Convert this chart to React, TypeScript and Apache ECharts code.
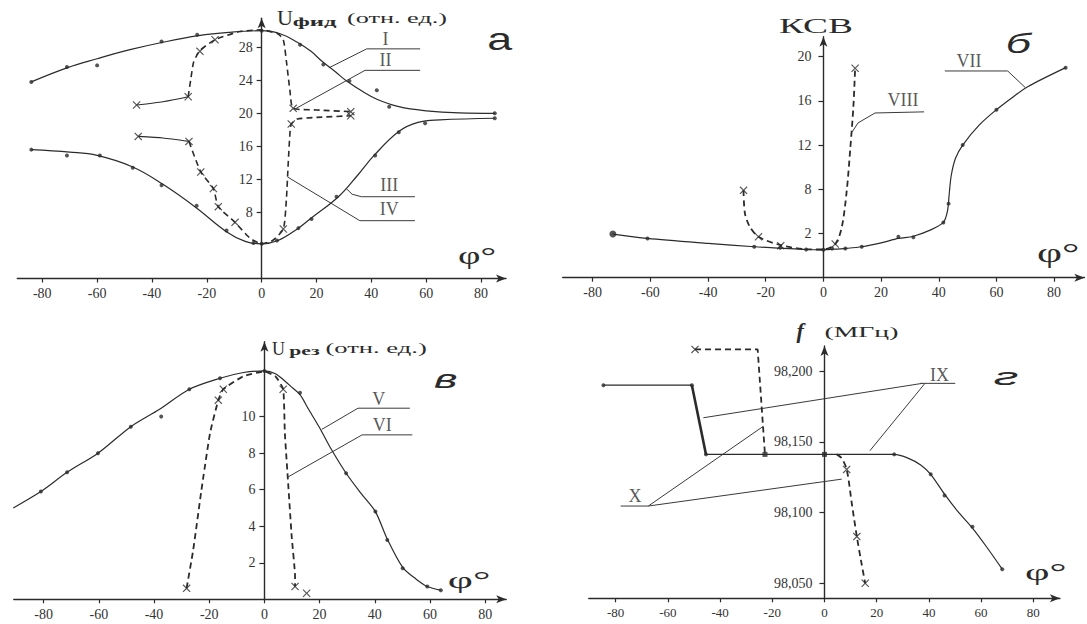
import React, { useEffect, useRef } from "react";
import * as echarts from "echarts";

// ---------- tick values ----------
const xTicks = [-80, -60, -40, -20, 0, 20, 40, 60, 80];
const aYTicks = [8, 12, 16, 20, 24, 28];
const bYTicks = [4, 8, 12, 16, 20];
const bYLabels = ["2", "8", "12", "16", "20"];
const cYTicks = [2, 4, 6, 8, 10];
const dYTicks = [98.05, 98.1, 98.15, 98.2];

// ---------- panel а : U фид ----------
const curveI = [[-84, 23.8], [-71, 25.5], [-60, 26.6], [-48, 27.7], [-36, 28.6], [-23, 29.4], [-12, 29.8], [0, 30], [7, 29.6], [13, 28.6], [18, 27.5], [22, 26.3], [27, 25], [31, 23.9], [37, 22.6], [42, 21.7], [50, 20.8], [60, 20.3], [72, 20.05], [85, 20]];
const dotsI = [[-84, 23.8], [-71, 25.6], [-60, 25.8], [-36.5, 28.7], [-23.5, 29.5], [0, 30.0], [14, 28.3], [22.5, 25.9], [32, 23.9], [42, 22.8], [46.5, 20.8], [85, 20.0]];
const curveIII = [[-84, 15.6], [-70, 15.3], [-60, 14.9], [-47, 13.5], [-36, 11.4], [-24, 8.6], [-13, 5.7], [-6, 4.5], [0, 4.2], [6, 4.6], [13, 6.0], [18, 7.3], [28, 9.9], [35, 12.5], [41, 14.9], [50, 17.8], [57, 18.9], [65, 19.2], [85, 19.4]];
const dotsIII = [[-84, 15.6], [-71, 14.9], [-59, 14.9], [-47, 13.4], [-36.5, 11.3], [-23.7, 8.8], [-12.8, 5.8], [-3, 4.3], [0, 4.2], [5.6, 4.6], [13.4, 6.1], [18.2, 7.2], [27.3, 9.9], [41.4, 14.9], [50, 17.7], [59.6, 18.8], [85, 19.4]];
const solidII = [[-45.6, 21.0], [-36, 21.4], [-26.8, 22.0]];
const dashII = [[-26.8, 22.0], [-25.8, 24.2], [-24.8, 26.2], [-22.5, 27.6], [-17, 28.9], [-7.9, 29.9], [0, 30.1], [6, 29.6], [7.9, 28.9], [9.1, 26.1], [10.3, 22.8], [11.5, 20.6], [20, 20.4], [32.5, 20.2]];
const crossII = [[-45.6, 21.0], [-26.8, 22.0], [-22.5, 27.5], [-17, 28.9], [11.5, 20.6], [32.5, 20.2]];
const solidIV = [[-45, 17.2], [-36, 17.0], [-26.5, 16.6]];
const dashIV = [[-26.5, 16.6], [-22.2, 12.9], [-17.6, 10.9], [-15.8, 8.7], [-9.7, 6.8], [-4.3, 4.9], [0, 4.2], [4, 4.6], [7.9, 6.0], [9, 9.5], [9.7, 14], [10.3, 17.5], [10.8, 18.7], [13, 19.3], [20, 19.5], [32.5, 19.7]];
const crossIV = [[-45, 17.2], [-26.5, 16.6], [-22.2, 12.9], [-17.6, 10.9], [-15.8, 8.7], [-9.7, 6.8], [7.9, 6.0], [10.8, 18.7], [32.5, 19.7]];
const leadI = [[24.5, 25.5], [38.3, 27.8], [57.8, 27.8]];
const leadII = [[12.6, 20.6], [37.7, 25.2], [57.8, 25.2]];
const leadIII = [[30.8, 10.9], [33, 10.2], [36.4, 9.9], [55.9, 9.9]];
const leadIV = [[9.4, 12.3], [35.8, 7.0], [55.9, 7.0]];
const namesA = [[45.2, 29.0, "I"], [45.2, 26.4, "II"], [46.5, 11.3, "III"], [46.5, 8.4, "IV"]];

// ---------- panel б : КСВ ----------
const curveVII = [[-73, 3.95], [-61, 3.55], [-40, 3.1], [-24, 2.8], [-15, 2.68], [-6, 2.55], [0, 2.52], [4, 2.58], [8, 2.65], [13.3, 2.8], [20, 3.15], [26, 3.55], [31.2, 3.75], [37, 4.3], [41.6, 5.0], [43, 6.0], [43.6, 7.5], [44.3, 9.2], [45.8, 10.8], [48.3, 12.0], [54, 13.8], [60, 15.2], [66, 16.4], [71, 17.3], [84, 19.0]];
const dotsVII = [[-61, 3.55], [-24, 2.8], [-15, 2.7], [-6, 2.55], [0, 2.52], [3, 2.65], [7.6, 2.65], [13.3, 2.8], [26, 3.7], [31.2, 3.65], [41.6, 5.0], [43.4, 6.7], [48.3, 12.0], [60, 15.2], [84, 19.0]];
const bigDotVII = [[-73, 3.95]];
const curveVIII = [[-27.7, 7.9], [-27.2, 5.8], [-25.5, 4.6], [-22.5, 3.7], [-15, 2.96], [-5.8, 2.57], [0, 2.55], [4.1, 3.05], [6.4, 4.6], [8.1, 7.9], [9.3, 11.6], [10.4, 15.5], [11, 18.95]];
const crossVIII = [[-27.7, 7.9], [-22.5, 3.7], [-14.8, 2.9], [4.1, 3.05], [11, 18.95]];
const leadVII = [[70, 17.2], [63.9, 18.7], [42.1, 18.7]];
const leadVIII = [[10, 13.2], [12, 14.0], [17.9, 14.9], [34.9, 15.0]];
const namesB = [[50.5, 19.6, "VII"], [27.6, 16.1, "VIII"]];

// ---------- panel в : U рез ----------
const curveV = [[-91, 5.0], [-81, 5.9], [-71.5, 6.95], [-60.3, 8.0], [-48.4, 9.45], [-38, 10.4], [-27.2, 11.5], [-16.1, 12.1], [-8, 12.4], [0, 12.5], [4, 12.35], [7.4, 11.95], [10, 11.6], [12.9, 11.2], [16, 10.4], [20.1, 9.36], [23.7, 8.35], [29.6, 6.9], [35, 5.8], [40.2, 4.8], [44.5, 3.3], [50.1, 1.75], [55, 1.1], [59, 0.7], [63.9, 0.5]];
const dotsV = [[-91, 5.0], [-81, 5.9], [-71.5, 6.95], [-60.3, 8.0], [-48.4, 9.45], [-37.4, 10.0], [-27.2, 11.5], [-16.1, 12.1], [0, 12.5], [12.9, 11.3], [29.6, 6.9], [40.2, 4.8], [44.5, 3.25], [50.1, 1.7], [59, 0.7], [63.9, 0.5]];
const curveVI = [[-28.2, 0.6], [-25.8, 2.7], [-22.8, 6.0], [-19.7, 9.1], [-16.7, 10.9], [-14.9, 11.5], [-7.7, 12.2], [0, 12.47], [4, 12.2], [6.8, 11.5], [7.4, 9.1], [8.6, 6.35], [9.9, 3.4], [11.1, 1.24], [11.1, 0.7]];
const crossVI = [[-28.2, 0.6], [-16.7, 10.9], [-14.9, 11.5], [6.8, 11.5], [11.1, 0.7], [15.3, 0.33]];
const leadV = [[20.8, 9.3], [33.9, 10.46], [52.7, 10.46]];
const leadVI = [[8.6, 6.7], [35.4, 9.0], [53.6, 9.0]];
const namesC = [[41.4, 10.95, "V"], [42.7, 9.55, "VI"]];

// ---------- panel г : f (МГц) ----------
const topIX = [[-84.7, 98.19], [-50.8, 98.19]];
const stepIX = [[-50.8, 98.19], [-45.4, 98.1411]];
const mainIX = [[-45.4, 98.1411], [0, 98.1411], [26.7, 98.1411], [32, 98.1385], [37, 98.1335], [40.7, 98.127], [46, 98.113], [51, 98.101], [56.7, 98.089], [62, 98.076], [68.1, 98.06]];
const dotsIX = [[-84.7, 98.19], [-50.8, 98.19], [-45.4, 98.1411], [26.7, 98.1411], [40.7, 98.127], [46, 98.112], [56.7, 98.09], [68.1, 98.06]];
const squaresX = [[-22.8, 98.1411], [0, 98.1411]];
const topX = [[-49.6, 98.2153], [-25.6, 98.2153], [-22.8, 98.1411]];
const fallX = [[4.7, 98.1411], [6.5, 98.1385], [8.5, 98.1305], [10.5, 98.106], [12.4, 98.083], [14, 98.066], [15.6, 98.05]];
const crossX = [[-49.6, 98.2153], [8.5, 98.1305], [12.4, 98.083], [15.6, 98.05]];
const leadIXh = [[36.8, 98.1913], [50.1, 98.1913]];
const leadIX1 = [[37.5, 98.1913], [-46.4, 98.167]];
const leadIX2 = [[38.5, 98.1913], [17.4, 98.1437]];
const leadXh = [[-78.1, 98.1046], [-67.5, 98.1046]];
const leadX1 = [[-67.5, 98.1046], [-23.4, 98.161]];
const leadX2 = [[-67.5, 98.1046], [6.6, 98.1236]];
const namesD = [[44.1, 98.197, "IX"], [-72.6, 98.1118, "X"]];

// ---------- styling helpers ----------
const INK = "#2b2b2b";
const SERIF = "'Liberation Serif', 'DejaVu Serif', serif";
const SANS = "'Liberation Sans', 'DejaVu Sans', sans-serif";
const X_SYMBOL = "path://M1,0L5,4L9,0L10,1L6,5L10,9L9,10L5,6L1,10L0,9L4,5L0,1Z";

// grid boxes (pixels) and axis ranges
const GRIDS = [
  { left: 17.3, top: 18.3, width: 488.7, height: 260.2, x: [-89.1, 89.1] },
  { left: 562.7, top: 36.7, width: 521.7, height: 241, x: [-90.4, 90.5] },
  { left: 13.8, top: 341.7, width: 492.4, height: 257.6, x: [-90.8, 87.6] },
  { left: 588.8, top: 346, width: 471.1, height: 252.3, x: [-90.3, 90.2] },
];
// distance (px) from a grid's left edge to its x = 0
function zeroOffset(g: number) {
  const G = GRIDS[g];
  return ((0 - G.x[0]) / (G.x[1] - G.x[0])) * G.width;
}

function curve(data: number[][], g: number, opt: any = {}) {
  return {
    type: "line",
    xAxisIndex: g,
    yAxisIndex: g,
    data,
    symbol: "none",
    showSymbol: false,
    smooth: opt.smooth ?? 0.3,
    silent: true,
    z: opt.z ?? 3,
    lineStyle: {
      color: opt.color ?? INK,
      width: opt.width ?? 1.2,
      type: opt.dash ? [6, 4] : "solid",
    },
  };
}
function lead(data: number[][], g: number) {
  return curve(data, g, { smooth: false, width: 1, color: "#3a3a3a", z: 2 });
}
function marks(data: number[][], g: number, kind: "dot" | "cross" | "square" | "big") {
  const sym = kind === "cross" ? X_SYMBOL : kind === "square" ? "rect" : "circle";
  const size = kind === "cross" ? 8 : kind === "square" ? 5 : kind === "big" ? 7 : 4;
  return {
    type: "scatter",
    xAxisIndex: g,
    yAxisIndex: g,
    data,
    symbol: sym,
    symbolSize: size,
    silent: true,
    z: 4,
    itemStyle: { color: INK },
  };
}
function names(items: any[], g: number) {
  return {
    type: "scatter",
    xAxisIndex: g,
    yAxisIndex: g,
    symbolSize: 1,
    silent: true,
    z: 5,
    itemStyle: { color: "rgba(0,0,0,0)" },
    data: items.map((it) => ({ value: [it[0], it[1]], name: it[2] })),
    label: { show: true, position: "inside", formatter: "{b}", fontFamily: SERIF, fontSize: 18, color: INK },
  };
}
function xAx(g: number, fs = 14) {
  return {
    type: "value",
    gridIndex: g,
    min: GRIDS[g].x[0],
    max: GRIDS[g].x[1],
    splitLine: { show: false },
    axisLine: { onZero: false, symbol: ["none", "arrow"], symbolSize: [6, 10], lineStyle: { color: INK, width: 1.4 } },
    axisTick: { show: true, customValues: xTicks, length: 4, lineStyle: { color: INK, width: 1.2 } },
    axisLabel: { customValues: xTicks, fontFamily: SERIF, fontSize: fs, color: "#333", margin: 8 },
  };
}
function yAx(g: number, min: number, max: number, ticks: number[], fmt: (v: number) => string, fs = 14, margin = 9) {
  return {
    type: "value",
    gridIndex: g,
    position: "left",
    offset: -zeroOffset(g),
    min,
    max,
    splitLine: { show: false },
    axisLine: { onZero: false, symbol: ["none", "arrow"], symbolSize: [6, 10], lineStyle: { color: INK, width: 1.4 } },
    axisTick: { show: true, customValues: ticks, length: 5, lineStyle: { color: INK, width: 1.2 } },
    axisLabel: { customValues: ticks, formatter: fmt, fontFamily: SERIF, fontSize: fs, color: "#333", margin },
  };
}
function txt(x: number, y: number, text: string, fontSize: number, opt: any = {}) {
  return {
    type: "text",
    x,
    y,
    scaleX: opt.scaleX ?? 1,
    silent: true,
    style: {
      text,
      x: 0,
      y: 0,
      fill: INK,
      fontSize,
      fontFamily: opt.family ?? SERIF,
      fontWeight: opt.weight ?? "normal",
      fontStyle: opt.style ?? "normal",
      align: "left",
      verticalAlign: "middle",
    },
  };
}

export default function App() {
  const ref = useRef<HTMLDivElement>(null);
  useEffect(() => {
    if (!ref.current) return;
    const chart = echarts.init(ref.current, null, { renderer: "svg" });
    const option: any = {
      animation: false,
      backgroundColor: "#ffffff",
      grid: GRIDS.map((G) => ({ left: G.left, top: G.top, width: G.width, height: G.height, outerBoundsMode: "none" })),
      xAxis: [xAx(0), xAx(1), xAx(2), xAx(3, 13)],
      yAxis: [
        yAx(0, 0, 31.5, aYTicks, (v) => String(v)),
        yAx(1, 0, 21.8, bYTicks, (v) => bYLabels[bYTicks.indexOf(v)] ?? String(v), 14, 12),
        yAx(2, 0, 14.1, cYTicks, (v) => String(v)),
        yAx(3, 98.0394, 98.2177, dYTicks, (v) => v.toFixed(3).replace(".", ","), 14, 12),
      ],
      series: [
        // а
        curve(curveI, 0, { smooth: 0.4 }),
        curve(curveIII, 0, { smooth: 0.4 }),
        curve(solidII, 0, { smooth: 0.2, width: 1.1 }),
        curve(dashII, 0, { smooth: 0.2, dash: true, width: 1.6 }),
        curve(solidIV, 0, { smooth: 0.2, width: 1.1 }),
        curve(dashIV, 0, { smooth: 0.2, dash: true, width: 1.6 }),
        marks(dotsI, 0, "dot"),
        marks(dotsIII, 0, "dot"),
        marks(crossII, 0, "cross"),
        marks(crossIV, 0, "cross"),
        lead(leadI, 0), lead(leadII, 0), lead(leadIII, 0), lead(leadIV, 0),
        names(namesA, 0),
        // б
        curve(curveVII, 1, { smooth: 0.3 }),
        curve(curveVIII, 1, { smooth: 0.3, dash: true, width: 1.8 }),
        marks(dotsVII, 1, "dot"),
        marks(bigDotVII, 1, "big"),
        marks(crossVIII, 1, "cross"),
        lead(leadVII, 1), lead(leadVIII, 1),
        names(namesB, 1),
        // в
        curve(curveV, 2, { smooth: 0.3 }),
        curve(curveVI, 2, { smooth: 0.15, dash: true, width: 1.8 }),
        marks(dotsV, 2, "dot"),
        marks(crossVI, 2, "cross"),
        lead(leadV, 2), lead(leadVI, 2),
        names(namesC, 2),
        // г
        curve(topIX, 3, { smooth: false }),
        curve(stepIX, 3, { smooth: false, width: 2.6 }),
        curve(mainIX, 3, { smooth: 0.3 }),
        curve(topX, 3, { smooth: false, dash: true, width: 1.8 }),
        curve(fallX, 3, { smooth: 0.3, dash: true, width: 1.8 }),
        marks(dotsIX, 3, "dot"),
        marks(squaresX, 3, "square"),
        marks(crossX, 3, "cross"),
        lead(leadIXh, 3), lead(leadIX1, 3), lead(leadIX2, 3),
        lead(leadXh, 3), lead(leadX1, 3), lead(leadX2, 3),
        names(namesD, 3),
      ],
      graphic: [
        // а
        txt(277, 17.5, "U", 22),
        txt(292.7, 21, "фид", 13, { weight: "bold", scaleX: 1.9 }),
        txt(347, 18.3, "(отн. ед.)", 15, { scaleX: 1.75 }),
        txt(487.3, 39, "а", 32, { family: SANS, scaleX: 1.4 }),
        txt(458, 255, "φ°", 26, { scaleX: 1.5 }),
        // б
        txt(779, 25.8, "КСВ", 22, { scaleX: 1.7 }),
        txt(1005.8, 43, "б", 28, { family: SANS, style: "italic", scaleX: 1.6 }),
        txt(1037, 252, "φ°", 28, { scaleX: 1.55 }),
        // в
        txt(272, 349, "U", 18),
        txt(289.3, 350.7, "рез", 12, { weight: "bold", scaleX: 1.8 }),
        txt(325.4, 348.3, "(отн. ед.)", 14, { scaleX: 1.9 }),
        txt(433.9, 379.4, "в", 25, { family: SANS, style: "italic", scaleX: 1.8 }),
        txt(447.7, 580, "φ°", 23, { scaleX: 1.9 }),
        // г
        txt(796.5, 330.8, "f", 22, { weight: "bold", style: "italic" }),
        txt(824.4, 331.7, "(МГц)", 15, { scaleX: 1.85 }),
        txt(993.6, 377, "г", 23, { family: SANS, style: "italic", scaleX: 2.2 }),
        txt(1025, 571.8, "φ°", 23, { scaleX: 1.85 }),
      ],
    };
    chart.setOption(option);
    return () => chart.dispose();
  }, []);
  return (
    <div
      ref={ref}
      style={{ position: "fixed", left: 0, top: 0, width: 1087, height: 624, background: "#fff" }}
    />
  );
}
